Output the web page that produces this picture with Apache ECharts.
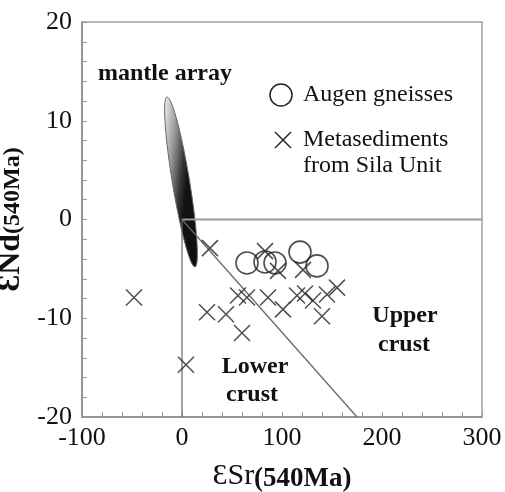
<!DOCTYPE html>
<html>
<head>
<meta charset="utf-8">
<script src="https://cdn.jsdelivr.net/npm/echarts@6/dist/echarts.min.js"></script>
<style>
  html, body { margin: 0; padding: 0; background: #fff; }
  #chart { width: 505px; height: 492px; }
</style>
</head>
<body>
<div id="chart"></div>
<script>
// εSr / εNd at 540 Ma
var augenGneisses = [[65, -4.4], [83, -4.3], [93, -4.4], [118, -3.3], [135, -4.7]]
var metasediments = [
  [-48, -7.9], [4, -14.7], [28, -2.9], [25, -9.4], [44, -9.6], [60, -11.5],
  [56, -7.7], [65, -7.9], [86, -7.9], [101, -9.1], [83, -3.2], [96, -5.2],
  [121, -5.1], [115, -7.7], [123, -7.5], [131, -8.2], [145, -7.6], [140, -9.8],
  [155, -6.9]
]
// mantle array ellipse: two tips of the long axis
var mantleArray = [[-15, 12.4, 13, -4.8]]
// field boundaries
var bulkEarthSr = [[0, 0], [0, -20]]
var bulkEarthNd = [[0, 0], [300, 0]]
var crustDivide = [[0, 0], [175, -20]]

var xRange = [-100, 300]
var yRange = [-20, 20]

var serif = '"Liberation Serif", "DejaVu Serif", serif'
var chart = echarts.init(document.getElementById('chart'))

var boundaryLine = function (data, color, width) {
  return {
    type: 'line',
    data: data,
    symbol: 'none',
    silent: true,
    z: 5,
    lineStyle: { color: color, width: width }
  }
}

chart.setOption({
  animation: false,
  grid: {
    left: 82,
    right: 23,
    top: 22,
    bottom: 75,
    outerBoundsMode: 'none',
    show: true,
    borderColor: '#a0a0a0',
    borderWidth: 1.5
  },
  xAxis: {
    type: 'value',
    min: xRange[0],
    max: xRange[1],
    interval: 100,
    name: '{m|ƐSr}{s|(540Ma)}',
    nameLocation: 'middle',
    nameGap: 44,
    nameTextStyle: {
      rich: {
        m: { fontFamily: serif, fontSize: 30, color: '#111', padding: [0, 0, 6, 0] },
        s: { fontFamily: serif, fontSize: 27, fontWeight: 'bold', color: '#111' }
      }
    },
    axisLine: { onZero: false, lineStyle: { color: '#8a8a8a', width: 1.5 } },
    axisTick: { inside: true, length: 5, lineStyle: { color: '#999' } },
    minorTick: { show: true, splitNumber: 5, length: 5, lineStyle: { color: '#999' } },
    splitLine: { show: false },
    axisLabel: { fontFamily: serif, fontSize: 26, color: '#111', margin: 8 }
  },
  yAxis: {
    type: 'value',
    min: yRange[0],
    max: yRange[1],
    interval: 10,
    name: '{m|ƐNd}{s|(540Ma)}',
    nameLocation: 'middle',
    nameGap: 41,
    nameTextStyle: {
      rich: {
        m: { fontFamily: serif, fontSize: 32, fontWeight: 'bold', color: '#111', padding: [0, 0, 4, 0] },
        s: { fontFamily: serif, fontSize: 24, fontWeight: 'bold', color: '#111' }
      }
    },
    axisLine: { onZero: false, lineStyle: { color: '#8a8a8a', width: 1.5 } },
    axisTick: { inside: true, length: 5, lineStyle: { color: '#999' } },
    minorTick: { show: true, splitNumber: 5, length: 5, lineStyle: { color: '#999' } },
    splitLine: { show: false },
    axisLabel: { fontFamily: serif, fontSize: 26, color: '#111', margin: 10 }
  },
  series: [
    {
      type: 'custom',
      name: 'mantle array',
      data: mantleArray,
      encode: { x: [0, 2], y: [1, 3] },
      silent: true,
      z: 3,
      renderItem: function (params, api) {
        var p1 = api.coord([api.value(0), api.value(1)])
        var p2 = api.coord([api.value(2), api.value(3)])
        var cx = (p1[0] + p2[0]) / 2
        var cy = (p1[1] + p2[1]) / 2
        var dx = p2[0] - p1[0]
        var dy = p2[1] - p1[1]
        var a = Math.sqrt(dx * dx + dy * dy) / 2
        var b = 8.6
        var ang = Math.atan2(dy, dx)
        var pts = []
        var minX = Infinity, maxX = -Infinity, minY = Infinity
        for (var i = 0; i < 90; i++) {
          var t = (i / 90) * Math.PI * 2
          var ex = a * Math.cos(t)
          var ey = b * Math.sin(t)
          var px = cx + ex * Math.cos(ang) - ey * Math.sin(ang)
          var py = cy + ex * Math.sin(ang) + ey * Math.cos(ang)
          pts.push([px, py])
          minX = Math.min(minX, px)
          maxX = Math.max(maxX, px)
          minY = Math.min(minY, py)
        }
        return {
          type: 'polygon',
          shape: { points: pts },
          style: {
            fill: new echarts.graphic.LinearGradient(minX, minY, maxX, minY + 4, [
              { offset: 0, color: '#f0f0f0' },
              { offset: 0.45, color: '#939393' },
              { offset: 0.8, color: '#333' },
              { offset: 1, color: '#111' }
            ], true),
            stroke: '#666',
            lineWidth: 1
          }
        }
      }
    },
    boundaryLine(bulkEarthSr, '#666', 1.2),
    boundaryLine(bulkEarthNd, '#9a9a9a', 2),
    boundaryLine(crustDivide, '#6a6a6a', 1.3),
    {
      type: 'scatter',
      name: 'Augen gneisses',
      data: augenGneisses,
      symbol: 'circle',
      symbolSize: 22,
      z: 6,
      itemStyle: { color: 'rgba(0,0,0,0)', borderColor: '#222', borderWidth: 1.6 }
    },
    {
      type: 'scatter',
      name: 'Metasediments from Sila Unit',
      data: metasediments,
      symbol: 'path://M0,0L10,10M10,0L0,10',
      symbolSize: 16,
      z: 6,
      itemStyle: { color: 'rgba(0,0,0,0)', borderColor: '#222', borderWidth: 1.5 }
    }
  ],
  graphic: [
    { type: 'text', x: 98, y: 74, style: { text: 'mantle array', font: 'bold 24px ' + serif, fill: '#111', verticalAlign: 'middle' } },
    { type: 'text', x: 405, y: 316, style: { text: 'Upper', font: 'bold 24px ' + serif, fill: '#111', align: 'center', verticalAlign: 'middle' } },
    { type: 'text', x: 404, y: 345, style: { text: 'crust', font: 'bold 24px ' + serif, fill: '#111', align: 'center', verticalAlign: 'middle' } },
    { type: 'text', x: 255, y: 367, style: { text: 'Lower', font: 'bold 24px ' + serif, fill: '#111', align: 'center', verticalAlign: 'middle' } },
    { type: 'text', x: 252, y: 395, style: { text: 'crust', font: 'bold 24px ' + serif, fill: '#111', align: 'center', verticalAlign: 'middle' } },
    // legend
    { type: 'circle', shape: { cx: 281, cy: 95, r: 11 }, style: { fill: 'none', stroke: '#222', lineWidth: 1.5 } },
    { type: 'text', x: 303, y: 95, style: { text: 'Augen gneisses', font: '24px ' + serif, fill: '#111', verticalAlign: 'middle' } },
    { type: 'polyline', shape: { points: [[275, 132], [291, 148]] }, style: { stroke: '#222', lineWidth: 1.5 } },
    { type: 'polyline', shape: { points: [[275, 148], [291, 132]] }, style: { stroke: '#222', lineWidth: 1.5 } },
    { type: 'text', x: 303, y: 140, style: { text: 'Metasediments', font: '24px ' + serif, fill: '#111', verticalAlign: 'middle' } },
    { type: 'text', x: 303, y: 166, style: { text: 'from Sila Unit', font: '24px ' + serif, fill: '#111', verticalAlign: 'middle' } }
  ]
})
</script>
</body>
</html>
